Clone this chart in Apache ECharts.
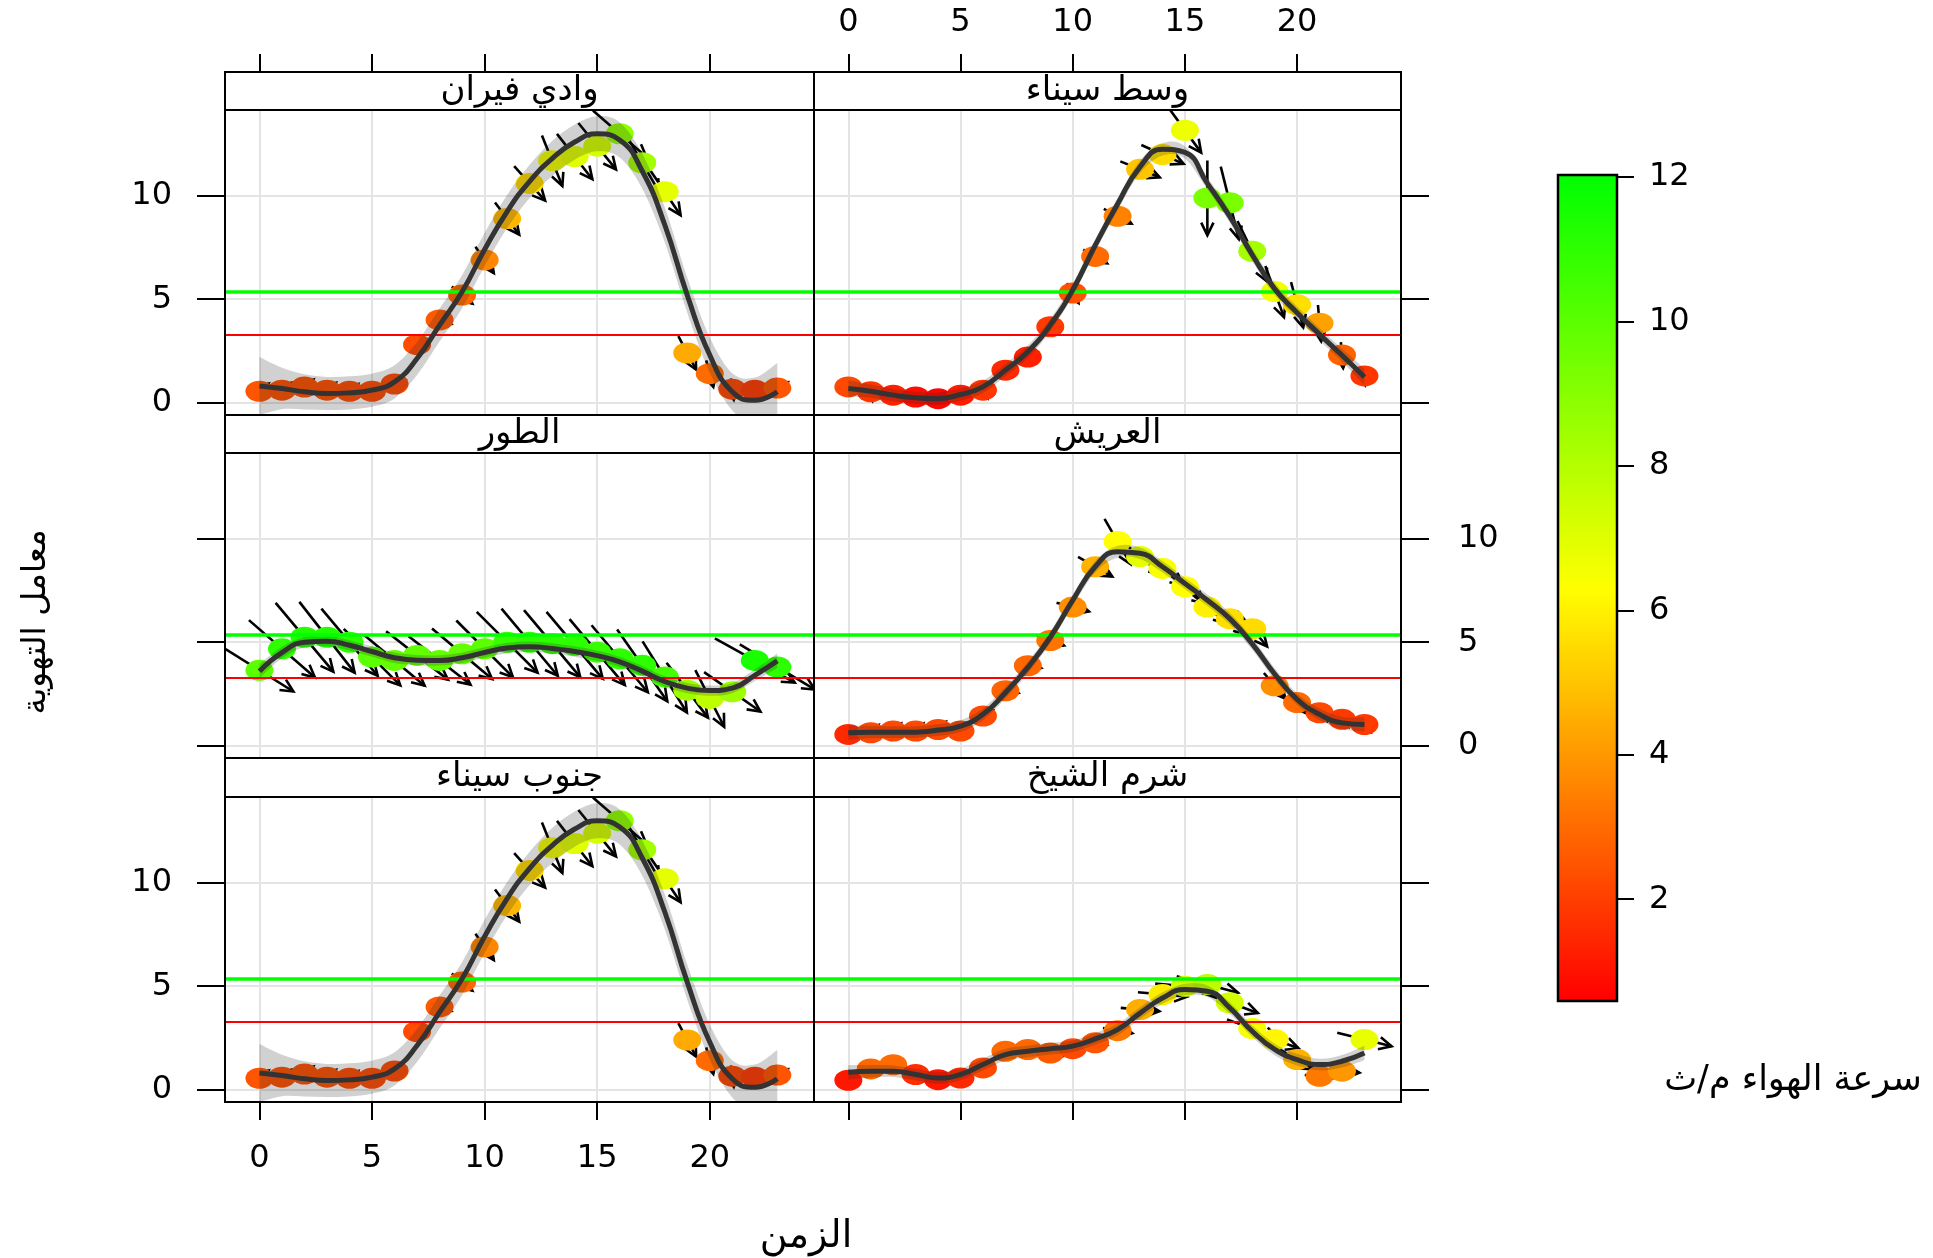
<!DOCTYPE html>
<html>
<head>
<meta charset="utf-8">
<script src="https://cdn.jsdelivr.net/npm/echarts@6/dist/echarts.min.js"></script>
<style>html,body{margin:0;padding:0;background:#fff}#c{width:1933px;height:1258px}</style>
</head>
<body>
<div id="c"></div>
<script>
// ---------------- data ----------------
const hours = [0,1,2,3,4,5,6,7,8,9,10,11,12,13,14,15,16,17,18,19,20,21,22,23];
const xTicks = [0,5,10,15,20];
const yTicks = [0,5,10];
const wsTicks = [2,4,6,8,10,12];
const thresholdGreen = 5.35;
const thresholdRed = 3.3;

const panelNames = ['وادي فيران','وسط سيناء','الطور','العريش','جنوب سيناء','شرم الشيخ'];

// وادي فيران
const wadiY   = [0.55,0.6,0.75,0.6,0.55,0.55,0.9,2.8,4.0,5.2,6.9,8.9,10.6,11.7,11.9,12.4,13.0,11.6,10.2,2.4,1.4,0.65,0.6,0.7];
const wadiWs  = [2.5,2.4,2.4,2.4,2.3,2.3,2.3,2.3,2.6,2.9,3.6,4.7,5.5,6.6,7.0,7.3,8.8,8.4,6.9,4.4,3.0,2.2,1.9,2.5];
const wadiDir = [50,50,50,50,50,55,70,95,110,130,145,143,138,158,142,141,131,150,146,152,165,172,175,60];
const wadiFit = [0.8,0.68,0.52,0.44,0.47,0.6,1.0,2.13,3.75,5.36,7.4,9.24,10.7,11.8,12.6,13.0,12.7,11.2,8.6,5.2,2.3,0.52,0.11,0.52];
const wadiSe  = [1.4,1.0,0.85,0.8,0.8,0.8,0.8,0.8,0.8,0.8,0.8,0.8,0.8,0.85,0.85,0.85,0.85,0.85,0.85,0.85,0.85,0.9,1.1,1.4];

// وسط سيناء
const wasatY   = [0.76,0.52,0.36,0.27,0.19,0.36,0.6,1.57,2.2,3.67,5.3,7.07,9.01,11.28,12.0,13.17,9.9,9.66,7.32,5.37,4.73,3.84,2.3,1.29];
const wasatWs  = [2.2,1.8,1.3,0.9,0.7,1.2,1.8,1.5,1.3,1.9,2.4,3.0,3.5,5.0,5.5,6.7,9.3,9.3,8.3,6.6,5.6,4.2,2.8,1.8];
const wasatDir = [120,170,170,170,165,160,150,110,120,125,150,120,118,112,114,144,180,166,154,160,165,175,175,175];
const wasatFit = [0.68,0.55,0.36,0.23,0.19,0.39,0.76,1.57,2.46,3.75,5.45,7.6,9.6,11.4,12.25,12.1,10.6,9.0,7.15,5.5,4.35,3.3,2.29,1.24];
const wasatSe  = [0.4,0.32,0.3,0.3,0.3,0.3,0.3,0.3,0.3,0.3,0.3,0.3,0.3,0.3,0.3,0.3,0.3,0.3,0.3,0.3,0.3,0.3,0.32,0.4];

// الطور
const turY   = [3.64,4.68,5.24,5.24,5.0,4.28,4.12,4.36,4.12,4.44,4.68,5.0,5.0,4.93,4.85,4.52,4.2,3.88,3.32,2.68,2.28,2.6,4.12,3.8];
const turWs  = [10.0,11.0,11.3,11.3,11.0,10.0,9.8,9.8,9.8,9.8,10.0,10.8,11.0,11.0,11.0,10.8,11.0,11.0,10.5,8.5,7.8,8.5,11.5,11.0];
const turDir = [122,131,140,142,140,135,130,128,128,130,135,135,140,140,140,140,140,145,148,143,153,125,119,121];
const turFit = [3.6,4.5,5.0,5.05,4.85,4.55,4.25,4.13,4.12,4.25,4.5,4.72,4.78,4.7,4.55,4.35,4.05,3.6,3.1,2.78,2.66,2.78,3.4,4.1];
const turSe  = [0.35,0.28,0.25,0.25,0.25,0.25,0.25,0.25,0.25,0.25,0.25,0.25,0.25,0.25,0.25,0.25,0.25,0.25,0.25,0.25,0.25,0.25,0.28,0.35];

// العريش
const arishY   = [0.54,0.62,0.7,0.7,0.78,0.7,1.43,2.65,3.86,5.08,6.7,8.65,9.87,9.14,8.57,7.68,6.7,6.14,5.65,2.89,2.08,1.59,1.27,1.02];
const arishWs  = [1.5,2.2,2.2,2.2,2.2,2.2,2.3,2.8,2.9,3.2,3.8,4.6,6.3,6.9,6.5,6.3,6.0,5.6,5.5,3.8,3.0,2.2,1.9,1.9];
const arishDir = [80,45,45,45,45,45,60,100,100,110,105,120,150,130,130,130,130,135,140,140,140,140,140,140];
const arishFit = [0.62,0.65,0.65,0.65,0.75,0.94,1.51,2.56,3.78,5.24,7.03,8.65,9.38,9.3,8.65,7.84,7.03,6.14,4.92,3.46,2.24,1.51,1.1,1.02];
const arishSe  = [0.35,0.3,0.28,0.28,0.28,0.28,0.28,0.28,0.28,0.28,0.28,0.28,0.28,0.28,0.28,0.28,0.28,0.28,0.28,0.28,0.28,0.28,0.3,0.35];

// جنوب سيناء
const janubY   = [0.55,0.6,0.75,0.6,0.55,0.55,0.9,2.8,4.0,5.2,6.9,8.9,10.6,11.7,11.9,12.4,13.0,11.6,10.2,2.4,1.4,0.65,0.6,0.7];
const janubWs  = [2.5,2.4,2.4,2.4,2.3,2.3,2.3,2.3,2.6,2.9,3.6,4.7,5.5,6.6,7.0,7.3,8.8,8.4,6.9,4.4,3.0,2.2,1.9,2.5];
const janubDir = [50,50,50,50,50,55,70,95,110,130,145,143,138,158,142,141,131,150,146,152,165,172,175,60];
const janubFit = [0.8,0.68,0.52,0.44,0.47,0.6,1.0,2.13,3.75,5.36,7.4,9.24,10.7,11.8,12.6,13.0,12.7,11.2,8.6,5.2,2.3,0.52,0.11,0.52];
const janubSe  = [1.4,1.0,0.85,0.8,0.8,0.8,0.8,0.8,0.8,0.8,0.8,0.8,0.8,0.85,0.85,0.85,0.85,0.85,0.85,0.85,0.85,0.9,1.1,1.4];

// شرم الشيخ
const sharmY   = [0.45,1.0,1.2,0.73,0.48,0.56,1.05,1.85,1.94,1.77,1.98,2.26,2.85,3.87,4.6,5.0,5.08,4.2,2.95,2.42,1.45,0.64,0.89,2.42];
const sharmWs  = [1.1,2.9,3.0,1.6,1.1,1.5,2.2,2.9,2.9,2.6,2.2,2.5,3.3,4.5,5.9,7.3,7.8,7.3,6.5,6.1,4.6,3.3,4.0,6.8];
const sharmDir = [100,100,100,105,110,105,100,100,100,105,105,100,100,95,95,95,105,110,110,110,120,95,95,104];
const sharmFit = [0.84,0.89,0.89,0.73,0.56,0.73,1.21,1.69,1.85,1.98,2.1,2.45,2.9,3.7,4.43,4.84,4.76,3.95,2.82,1.94,1.45,1.21,1.37,1.77];
const sharmSe  = [0.35,0.3,0.28,0.28,0.28,0.28,0.28,0.28,0.28,0.28,0.28,0.28,0.28,0.28,0.28,0.28,0.28,0.28,0.28,0.28,0.28,0.28,0.3,0.35];

const panelData = [
  {y: wadiY,  ws: wadiWs,  dir: wadiDir,  fit: wadiFit,  se: wadiSe},
  {y: wasatY, ws: wasatWs, dir: wasatDir, fit: wasatFit, se: wasatSe},
  {y: turY,   ws: turWs,   dir: turDir,   fit: turFit,   se: turSe},
  {y: arishY, ws: arishWs, dir: arishDir, fit: arishFit, se: arishSe},
  {y: janubY, ws: janubWs, dir: janubDir, fit: janubFit, se: janubSe},
  {y: sharmY, ws: sharmWs, dir: sharmDir, fit: sharmFit, se: sharmSe}
];

// ---------------- layout / style ----------------
const XMIN = -1.53, XMAX = 24.63, YMIN = -0.6, YMAX = 14.15;
const WS_MIN = 0.59, WS_MAX = 12.03;
const COL_X = [225, 814], COL_W = [589, 587];
const STRIP_Y = [72, 415, 758], STRIP_H = [38, 38, 39];
const PLOT_Y = [110, 453, 797], PLOT_H = 305;
const FONT = 'DejaVu Sans';
const TICK_FS = 32;
const ARROW_BASE = 5, ARROW_PER_MS = 7.5, HEAD_LEN = 14, HEAD_ANGLE = 26 * Math.PI / 180;

function renderArrow(params, api) {
  const p = api.coord([api.value(0), api.value(1)]);
  const ws = api.value(2);
  const d = api.value(3) * Math.PI / 180;
  const L = ARROW_BASE + ARROW_PER_MS * ws;
  const ux = Math.sin(d), uy = -Math.cos(d);
  const x1 = p[0] - ux * L / 2, y1 = p[1] - uy * L / 2;
  const x2 = p[0] + ux * L / 2, y2 = p[1] + uy * L / 2;
  const rx = -ux, ry = -uy, ca = Math.cos(HEAD_ANGLE), sa = Math.sin(HEAD_ANGLE);
  const h1 = [x2 + HEAD_LEN * (rx * ca - ry * sa), y2 + HEAD_LEN * (rx * sa + ry * ca)];
  const h2 = [x2 + HEAD_LEN * (rx * ca + ry * sa), y2 + HEAD_LEN * (-rx * sa + ry * ca)];
  return {
    type: 'group',
    children: [
      {type: 'line', shape: {x1: x1, y1: y1, x2: x2, y2: y2}, style: {stroke: '#000', lineWidth: 2.6}},
      {type: 'polyline', shape: {points: [h1, [x2, y2], h2]}, style: {stroke: '#000', lineWidth: 2.6, fill: null}}
    ]
  };
}

// Catmull-Rom spline through pixel points -> cubic bezier path commands
function splineCmds(pts, first) {
  let d = first ? ('M' + pts[0][0] + ',' + pts[0][1]) : ('L' + pts[0][0] + ',' + pts[0][1]);
  for (let k = 0; k < pts.length - 1; k++) {
    const p0 = pts[Math.max(0, k - 1)], p1 = pts[k], p2 = pts[k + 1], p3 = pts[Math.min(pts.length - 1, k + 2)];
    const c1 = [p1[0] + (p2[0] - p0[0]) / 6, p1[1] + (p2[1] - p0[1]) / 6];
    const c2 = [p2[0] - (p3[0] - p1[0]) / 6, p2[1] - (p3[1] - p1[1]) / 6];
    d += 'C' + c1[0] + ',' + c1[1] + ',' + c2[0] + ',' + c2[1] + ',' + p2[0] + ',' + p2[1];
  }
  return d;
}

function makeBandRenderer(fit, se) {
  return function (params, api) {
    const up = [], lo = [];
    for (let k = 0; k < hours.length; k++) {
      up.push(api.coord([hours[k], fit[k] + se[k]]));
      lo.push(api.coord([hours[k], fit[k] - se[k]]));
    }
    lo.reverse();
    const pathData = splineCmds(up, true) + splineCmds(lo, false) + 'Z';
    return {type: 'path', shape: {pathData: pathData}, style: {fill: 'rgba(40,40,40,0.21)', stroke: null}};
  };
}

const grids = [], xAxes = [], yAxes = [], series = [], graphics = [];
const scatterIdx = [];

for (let i = 0; i < 6; i++) {
  const r = Math.floor(i / 2), c = i % 2;
  grids.push({
    left: COL_X[c], top: PLOT_Y[r], width: COL_W[c], height: PLOT_H,
    show: true, borderColor: '#000', borderWidth: 2, backgroundColor: 'transparent',
    containLabel: false, outerBoundsMode: 'none', z: 7
  });
  const xShowTick = (r === 0 || r === 2);
  const xShowLabel = (r === 0 && c === 1) || (r === 2 && c === 0);
  xAxes.push({
    gridIndex: i, type: 'value', min: XMIN, max: XMAX,
    position: r === 0 ? 'top' : 'bottom',
    offset: r === 0 ? STRIP_H[0] : 0,
    axisLine: {show: false, onZero: false},
    axisTick: {show: xShowTick, inside: false, length: 18, lineStyle: {color: '#000', width: 2}, customValues: xTicks},
    axisLabel: {show: xShowLabel, customValues: xTicks, margin: r === 0 ? 33 : 41,
                fontSize: TICK_FS, fontFamily: FONT, color: '#000'},
    splitLine: {show: true, customValues: xTicks, lineStyle: {color: '#e4e4e4', width: 2}}
  });
  const yShowLabel = (c === 0 && r !== 1) || (c === 1 && r === 1);
  yAxes.push({
    gridIndex: i, type: 'value', min: YMIN, max: YMAX,
    position: c === 0 ? 'left' : 'right',
    axisLine: {show: false, onZero: false},
    axisTick: {show: true, inside: false, length: 28, lineStyle: {color: '#000', width: 2}, customValues: yTicks},
    axisLabel: {show: yShowLabel, customValues: yTicks, margin: c === 0 ? 53 : 57,
                fontSize: TICK_FS, fontFamily: FONT, color: '#000'},
    splitLine: {show: true, customValues: yTicks, lineStyle: {color: '#e4e4e4', width: 2}}
  });

  const P = panelData[i];
  // wind arrows
  series.push({
    type: 'custom', xAxisIndex: i, yAxisIndex: i, clip: true,
    data: hours.map((h, k) => [h, P.y[k], P.ws[k], P.dir[k]]),
    encode: {x: 0, y: 1}, renderItem: renderArrow, silent: true, z: 2
  });
  // points coloured by wind speed
  scatterIdx.push(series.length);
  series.push({
    type: 'scatter', xAxisIndex: i, yAxisIndex: i,
    data: hours.map((h, k) => [h, P.y[k], P.ws[k]]),
    symbol: 'circle', symbolSize: [28, 21],
    itemStyle: {opacity: 1}, silent: true, z: 3
  });
  // confidence band of the smooth (translucent, over the points)
  series.push({
    type: 'custom', xAxisIndex: i, yAxisIndex: i, clip: true,
    data: [[hours[0], P.fit[0]]], encode: {x: 0, y: 1},
    renderItem: makeBandRenderer(P.fit, P.se), silent: true, z: 4
  });
  // smooth fit + threshold lines
  series.push({
    type: 'line', xAxisIndex: i, yAxisIndex: i,
    data: hours.map((h, k) => [h, P.fit[k]]),
    smooth: 0.5, symbol: 'none', lineStyle: {color: '#333333', width: 5}, silent: true, z: 6,
    markLine: {
      silent: true, symbol: 'none', z: 5, label: {show: false},
      data: [
        {yAxis: thresholdGreen, lineStyle: {color: '#00ff00', width: 3.5, type: 'solid'}},
        {yAxis: thresholdRed, lineStyle: {color: '#ff0000', width: 2, type: 'solid'}}
      ]
    }
  });

  // strip
  graphics.push({
    type: 'rect', z: 20,
    shape: {x: COL_X[c], y: STRIP_Y[r], width: COL_W[c], height: STRIP_H[r]},
    style: {fill: '#fff', stroke: '#000', lineWidth: 2}
  });
  graphics.push({
    type: 'text', z: 21, x: COL_X[c] + COL_W[c] / 2, y: STRIP_Y[r] + STRIP_H[r] / 2,
    style: {text: panelNames[i], fontSize: 34, fontFamily: FONT, fill: '#000', align: 'center', verticalAlign: 'middle'}
  });
}

// colour key axis
grids.push({left: 1558, top: 175, width: 59, height: 826, show: true, borderColor: '#000', borderWidth: 2.5,
            backgroundColor: 'transparent', containLabel: false, outerBoundsMode: 'none', z: 10});
xAxes.push({gridIndex: 6, type: 'value', min: 0, max: 1, show: false});
yAxes.push({
  gridIndex: 6, type: 'value', min: WS_MIN, max: WS_MAX, position: 'right',
  axisLine: {show: false, onZero: false},
  axisTick: {show: true, length: 17, lineStyle: {color: '#000', width: 2}, customValues: wsTicks},
  axisLabel: {show: true, customValues: wsTicks, margin: 32, fontSize: TICK_FS, fontFamily: FONT, color: '#000'},
  splitLine: {show: false}
});

// titles
graphics.push({type: 'text', z: 21, x: 36, y: 622, rotation: Math.PI / 2,
  style: {text: 'معامل التهوية', fontSize: 33, fontFamily: FONT, fill: '#000', align: 'center', verticalAlign: 'middle'}});
graphics.push({type: 'text', z: 21, x: 806, y: 1237,
  style: {text: 'الزمن', fontSize: 38, fontFamily: FONT, fill: '#000', align: 'center', verticalAlign: 'middle'}});
graphics.push({type: 'text', z: 21, x: 1793, y: 1081,
  style: {text: 'سرعة الهواء م/ث', fontSize: 35, fontFamily: FONT, fill: '#000', align: 'center', verticalAlign: 'middle'}});

const option = {
  animation: false,
  backgroundColor: '#ffffff',
  grid: grids,
  xAxis: xAxes,
  yAxis: yAxes,
  visualMap: {
    type: 'continuous', min: WS_MIN, max: WS_MAX, dimension: 2, seriesIndex: scatterIdx,
    calculable: false, realtime: false, show: true, orient: 'vertical',
    left: 1558, top: 175, itemWidth: 59, itemHeight: 826, padding: 0, text: null,
    inRange: {color: ['#ff0000', '#ffff00', '#00ff00']}, z: 4
  },
  graphic: graphics,
  series: series
};

const chart = echarts.init(document.getElementById('c'), null, {renderer: 'canvas', width: 1933, height: 1258});
chart.setOption(option);
</script>
</body>
</html>
